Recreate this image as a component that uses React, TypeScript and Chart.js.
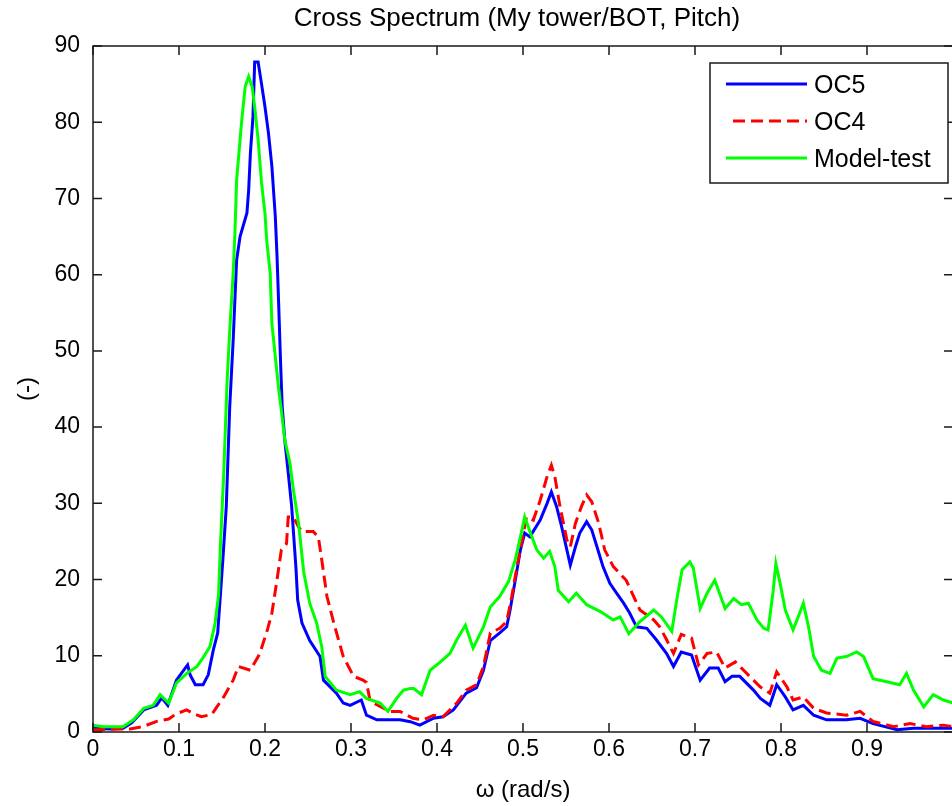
import React, { useEffect, useRef } from "react";
import { Chart, registerables } from "chart.js";

Chart.register(...registerables);

const chartTitle = "Cross Spectrum (My tower/BOT, Pitch)";
const xAxisLabel = "ω (rad/s)";
const yAxisLabel = "(-)";
const seriesLabels = ["OC5", "OC4", "Model-test"];
const seriesColors = ["#0000ff", "#ff0000", "#00ff00"];

const xTicks = [0, 0.1, 0.2, 0.3, 0.4, 0.5, 0.6, 0.7, 0.8, 0.9];
const yTicks = [0, 10, 20, 30, 40, 50, 60, 70, 80, 90];

const omegaOC5 = [
  0, 0.02, 0.035, 0.045, 0.059, 0.074, 0.08, 0.087, 0.097, 0.11, 0.113, 0.119, 0.128, 0.134, 0.14, 0.145, 0.151,
  0.155, 0.159, 0.163, 0.167, 0.171, 0.179, 0.181, 0.183, 0.186, 0.188, 0.192, 0.196, 0.2, 0.204, 0.208, 0.212,
  0.214, 0.216, 0.218, 0.22, 0.223, 0.227, 0.231, 0.236, 0.238, 0.243, 0.252, 0.264, 0.268, 0.283, 0.291, 0.299,
  0.312, 0.318, 0.33, 0.357, 0.369, 0.38, 0.396, 0.407, 0.419, 0.434, 0.446, 0.454, 0.462, 0.473, 0.481, 0.485,
  0.491, 0.497, 0.502, 0.508, 0.52, 0.528, 0.533, 0.539, 0.545, 0.551, 0.555, 0.561, 0.566, 0.574, 0.58, 0.586,
  0.593, 0.601, 0.609, 0.617, 0.624, 0.632, 0.644, 0.655, 0.667, 0.675, 0.684, 0.696, 0.706, 0.717, 0.727, 0.735,
  0.743, 0.752, 0.768, 0.776, 0.787, 0.795, 0.805, 0.814, 0.826, 0.838, 0.853, 0.876, 0.892, 0.907, 0.935, 0.954,
  1.0,
];
const valuesOC5 = [
  0.5, 0.4, 0.5, 1.2, 2.9, 3.5, 4.5, 3.5, 6.8, 8.8, 7.5, 6.2, 6.2, 7.5, 10.8, 13, 22.6,
  29.6, 42.7, 51.4, 61.9, 65, 68.1, 71.1, 75.9, 80.7, 87.9, 87.9, 85, 82, 78.6, 74.2, 67.6,
  62.4, 55.8, 48.8, 42.7, 38.3, 34, 29.6, 21.5, 17.3, 14.3, 12, 9.9, 6.8, 5.1, 3.8, 3.5,
  4.2, 2.2, 1.6, 1.6, 1.35, 0.9, 1.8, 2.0, 2.9, 5.1, 5.8, 8.1, 12, 13, 13.8, 16,
  19.9, 23.9, 26.1, 25.6, 27.8, 30, 31.5, 29.6, 26.9, 23.9, 21.9, 24.3, 26.1, 27.6, 26.5, 24.3,
  21.7, 19.5, 18.2, 16.9, 15.6, 13.8, 13.6, 12.1, 10.3, 8.6, 10.5, 10.1, 6.8, 8.4, 8.4, 6.6,
  7.3, 7.3, 5.5, 4.4, 3.5, 6.2, 4.6, 2.9, 3.5, 2.2, 1.6, 1.6, 1.8, 1.1, 0.3, 0.5,
  0.5,
];

const omegaOC4 = [
  0, 0.043, 0.058, 0.074, 0.088, 0.097, 0.109, 0.117, 0.126, 0.138, 0.152, 0.163, 0.169, 0.183, 0.194, 0.203,
  0.208, 0.214, 0.219, 0.225, 0.227, 0.233, 0.239, 0.243, 0.256, 0.262, 0.266, 0.272, 0.28, 0.291, 0.303, 0.314,
  0.318, 0.322, 0.326, 0.345, 0.357, 0.372, 0.384, 0.396, 0.407, 0.423, 0.434, 0.446, 0.454, 0.462, 0.473, 0.481,
  0.487, 0.493, 0.499, 0.504, 0.512, 0.52, 0.528, 0.533, 0.537, 0.543, 0.551, 0.555, 0.561, 0.568, 0.574, 0.58,
  0.588, 0.595, 0.605, 0.62, 0.636, 0.652, 0.659, 0.667, 0.675, 0.684, 0.696, 0.704, 0.714, 0.725, 0.735, 0.747,
  0.76, 0.776, 0.787, 0.795, 0.807, 0.814, 0.826, 0.838, 0.853, 0.876, 0.892, 0.907, 0.931, 0.95, 0.969, 0.989,
  1.0,
];
const valuesOC4 = [
  0.3, 0.4, 0.7, 1.4, 1.7, 2.4, 2.9, 2.4, 2.0, 2.3, 4.6, 6.8, 8.6, 8.1, 10.3, 13.5,
  15.6, 20, 23.9, 24.7, 28.2, 28.2, 26.9, 26.3, 26.3, 25.6, 22.6, 17.8, 14.3, 9.9, 7.3, 6.8,
  6.5, 4.2, 3.8, 2.7, 2.7, 1.8, 1.6, 2.2, 2.0, 3.8, 5.5, 6.2, 8.6, 13, 13.6, 14.5,
  17.8, 21.7, 25.2, 28.2, 27.8, 30.4, 33.5, 35, 33.5, 29.6, 25.2, 24.3, 27.4, 29.6, 31.1, 30.2,
  27.4, 23.9, 21.7, 19.9, 16, 14.7, 13.8, 12.1, 10.3, 12.8, 12.3, 8.8, 10.3, 10.5, 8.4, 9.2,
  7.7, 5.9, 5.1, 7.9, 5.9, 4.2, 4.6, 3.1, 2.5, 2.2, 2.7, 1.4, 0.7, 1.1, 0.7, 0.9,
  0.7,
];

const omegaModel = [
  0, 0.012, 0.035, 0.047, 0.059, 0.07, 0.078, 0.088, 0.097, 0.109, 0.121, 0.13, 0.136, 0.142, 0.146, 0.148,
  0.152, 0.156, 0.159, 0.163, 0.165, 0.167, 0.171, 0.173, 0.177, 0.181, 0.185, 0.188, 0.192, 0.196, 0.2, 0.202,
  0.206, 0.208, 0.212, 0.216, 0.219, 0.223, 0.229, 0.233, 0.239, 0.245, 0.252, 0.26, 0.266, 0.27, 0.283, 0.299,
  0.31, 0.318, 0.334, 0.343, 0.353, 0.361, 0.369, 0.373, 0.382, 0.392, 0.404, 0.415, 0.423, 0.433, 0.442, 0.454,
  0.462, 0.473, 0.483, 0.491, 0.497, 0.502, 0.508, 0.516, 0.524, 0.531, 0.537, 0.541, 0.553, 0.562, 0.574, 0.59,
  0.605, 0.613, 0.623, 0.636, 0.652, 0.661, 0.673, 0.679, 0.685, 0.694, 0.698, 0.706, 0.714, 0.723, 0.735, 0.745,
  0.754, 0.762, 0.772, 0.78, 0.785, 0.791, 0.794, 0.799, 0.805, 0.814, 0.82, 0.826, 0.832, 0.838, 0.847, 0.857,
  0.865, 0.876, 0.888, 0.896, 0.907, 0.923, 0.938, 0.946, 0.954, 0.966, 0.977, 0.989, 1.0,
];
const valuesModel = [
  0.9, 0.7, 0.7, 1.6, 3.1, 3.5, 4.9, 3.8, 6.4, 7.7, 8.6, 10.1, 11.2, 14.3, 18, 24,
  33.9, 46.2, 52.7, 60.2, 65.4, 72.4, 77.7, 80.3, 84.7, 86, 84.7, 82, 77.7, 72, 68, 64.5,
  60.2, 53.6, 49.2, 44.9, 42.2, 38.3, 35.3, 31.8, 27.4, 21, 16.9, 14.3, 11.2, 7.3, 5.5, 4.9,
  5.3, 4.4, 3.8, 2.7, 4.4, 5.5, 5.7, 5.7, 4.9, 8.1, 9.2, 10.3, 12.1, 14, 11, 13.8,
  16.4, 17.8, 19.7, 22.6, 25.6, 28.2, 26.3, 23.9, 22.8, 23.7, 21.7, 18.6, 17.1, 18.2, 16.7, 15.8,
  14.7, 15.1, 12.9, 14.5, 16, 15.1, 13.2, 17.5, 21.3, 22.3, 21.5, 16.2, 18.2, 19.9, 16.2, 17.5,
  16.7, 16.9, 14.7, 13.6, 13.4, 18.6, 22.1, 19.5, 16, 13.4, 15.1, 16.9, 13.8, 9.9, 8.1, 7.7,
  9.7, 9.9, 10.5, 9.9, 7.0, 6.6, 6.2, 7.7, 5.5, 3.3, 4.9, 4.2, 3.8,
];

const FONT_FAMILY = '"Liberation Sans", Arial, Helvetica, sans-serif';

const toPoints = (xs: number[], ys: number[]) => xs.map((x, i) => ({ x, y: ys[i] }));

const decorPlugin = {
  id: "matlabDecor",
  afterDraw(chart: any) {
    const { ctx, chartArea } = chart;
    const { left, right, top, bottom } = chartArea;
    const xs = chart.scales.x;
    const ys = chart.scales.y;
    ctx.save();
    // axes box
    ctx.strokeStyle = "#1a1a1a";
    ctx.lineWidth = 1.5;
    ctx.strokeRect(left, top, right - left, bottom - top);
    // inside ticks
    const tl = 9;
    ctx.beginPath();
    xTicks.forEach((v) => {
      const px = xs.getPixelForValue(v);
      ctx.moveTo(px, bottom);
      ctx.lineTo(px, bottom - tl);
      ctx.moveTo(px, top);
      ctx.lineTo(px, top + tl);
    });
    yTicks.forEach((v) => {
      const py = ys.getPixelForValue(v);
      ctx.moveTo(left, py);
      ctx.lineTo(left + tl, py);
      ctx.moveTo(right, py);
      ctx.lineTo(right - tl, py);
    });
    ctx.stroke();

    // title
    ctx.fillStyle = "#000";
    ctx.textAlign = "center";
    ctx.textBaseline = "middle";
    ctx.font = `26px ${FONT_FAMILY}`;
    ctx.fillText(chartTitle, (left + right) / 2 - 6, top - 27);
    // x label
    ctx.font = `24px ${FONT_FAMILY}`;
    ctx.fillText(xAxisLabel, (left + right) / 2, bottom + 58);
    // y label
    ctx.save();
    ctx.translate(left - 66, (top + bottom) / 2);
    ctx.rotate(-Math.PI / 2);
    ctx.fillText(yAxisLabel, 0, 0);
    ctx.restore();

    // legend
    const bx = right - 243;
    const by = top + 17;
    const bw = 238;
    const bh = 120;
    ctx.fillStyle = "#fff";
    ctx.fillRect(bx, by, bw, bh);
    ctx.strokeStyle = "#1a1a1a";
    ctx.lineWidth = 1.5;
    ctx.strokeRect(bx, by, bw, bh);
    ctx.font = `25px ${FONT_FAMILY}`;
    ctx.textAlign = "left";
    ctx.textBaseline = "middle";
    chart.data.datasets.forEach((ds: any, i: number) => {
      const ly = by + 21 + i * 37;
      ctx.save();
      ctx.strokeStyle = ds.borderColor;
      ctx.lineWidth = 3;
      if (ds.borderDash) ctx.setLineDash(ds.borderDash);
      ctx.beginPath();
      if (ds.borderDash) {
        ctx.moveTo(bx + 23, ly);
      } else {
        ctx.moveTo(bx + 16, ly);
      }
      ctx.lineTo(bx + 97, ly);
      ctx.stroke();
      ctx.restore();
      ctx.fillStyle = "#000";
      ctx.fillText(ds.label, bx + 104, ly + 2);
    });
    ctx.restore();
  },
};

export default function App() {
  const canvasRef = useRef<HTMLCanvasElement | null>(null);

  useEffect(() => {
    const canvas = canvasRef.current;
    if (!canvas) return;
    const tickFont = { family: FONT_FAMILY, size: 23 };
    const chart = new Chart(canvas, {
      type: "line",
      data: {
        datasets: [
          {
            label: seriesLabels[0],
            data: toPoints(omegaOC5, valuesOC5),
            borderColor: seriesColors[0],
            borderWidth: 3,
            pointRadius: 0,
            tension: 0,
            fill: false,
            order: 3,
          },
          {
            label: seriesLabels[1],
            data: toPoints(omegaOC4, valuesOC4),
            borderColor: seriesColors[1],
            borderWidth: 3,
            borderDash: [12, 6],
            pointRadius: 0,
            tension: 0,
            fill: false,
            order: 2,
          },
          {
            label: seriesLabels[2],
            data: toPoints(omegaModel, valuesModel),
            borderColor: seriesColors[2],
            borderWidth: 3,
            pointRadius: 0,
            tension: 0,
            fill: false,
            order: 1,
          },
        ],
      } as any,
      options: {
        animation: false,
        responsive: false,
        maintainAspectRatio: false,
        layout: { padding: { top: 46, right: 9, left: 0, bottom: 0 } },
        plugins: {
          legend: { display: false },
          title: { display: false },
          tooltip: { enabled: false },
        },
        scales: {
          x: {
            type: "linear",
            min: 0,
            max: 1,
            grid: { display: false, drawTicks: false },
            border: { display: false },
            afterBuildTicks: (s: any) => {
              s.ticks = xTicks.map((v) => ({ value: v }));
            },
            afterFit: (s: any) => {
              s.height = 74;
            },
            ticks: {
              font: tickFont,
              color: "#000",
              padding: 4,
              maxRotation: 0,
              autoSkip: false,
              callback: (v: any) => String(+Number(v).toFixed(1)),
            },
          },
          y: {
            type: "linear",
            min: 0,
            max: 90,
            grid: { display: false, drawTicks: false },
            border: { display: false },
            afterBuildTicks: (s: any) => {
              s.ticks = yTicks.map((v) => ({ value: v }));
            },
            afterFit: (s: any) => {
              s.width = 93;
            },
            ticks: {
              font: tickFont,
              color: "#000",
              padding: 13,
              autoSkip: false,
              callback: (v: any) => String(v),
            },
          },
        },
      } as any,
      plugins: [decorPlugin],
    });
    return () => chart.destroy();
  }, []);

  return (
    <div
      style={{
        position: "fixed",
        left: 0,
        top: 0,
        width: 952,
        height: 806,
        overflow: "hidden",
        background: "#fff",
      }}
    >
      <canvas ref={canvasRef} width={962} height={806} style={{ display: "block" }} />
    </div>
  );
}
